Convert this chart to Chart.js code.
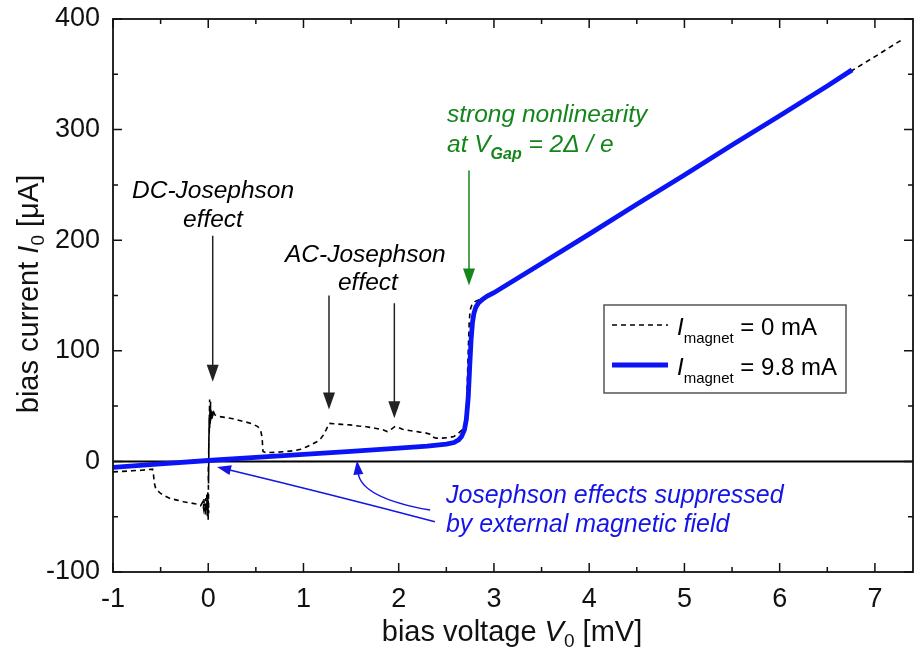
<!DOCTYPE html>
<html>
<head>
<meta charset="utf-8">
<script src="https://cdn.jsdelivr.net/npm/chart.js@4.4.0/dist/chart.umd.min.js"></script>
<style>
  html, body { margin: 0; padding: 0; background: #fff; }
  canvas { display: block; }
</style>
</head>
<body>
<canvas id="ivChart" width="916" height="659"></canvas>
<script>
// I-V curve, I_magnet = 0 mA (black dashed)
const voltage0 = [-1.0, -0.9, -0.8, -0.7, -0.62, -0.585, -0.575, -0.565, -0.55, -0.5, -0.45, -0.4, -0.33, -0.26, -0.19, -0.12,
  -0.08, -0.06, -0.05, -0.045, -0.04, -0.035, -0.03, -0.025, -0.02, -0.015, -0.01, -0.005, 0.0, -0.005, 0.005, 0.0, 0.008,
  0.003, 0.01, 0.005, 0.015, 0.01, 0.02, 0.015, 0.025, 0.02, 0.03, 0.025, 0.035, 0.04, 0.045, 0.05, 0.06,
  0.07, 0.12, 0.2, 0.26, 0.33, 0.4, 0.46, 0.52, 0.55, 0.565, 0.575, 0.6, 0.7, 0.8, 0.9, 0.97, 1.03, 1.09, 1.14, 1.18, 1.21,
  1.24, 1.27, 1.32, 1.4, 1.49, 1.58, 1.66, 1.75, 1.84, 1.88, 1.92, 1.96, 2.0, 2.04, 2.08, 2.15, 2.22, 2.28, 2.33, 2.36, 2.39,
  2.45, 2.52, 2.58, 2.62, 2.66, 2.69, 2.71, 2.72, 2.73, 2.74, 2.75, 2.77, 2.8, 2.85, 2.92, 3.0, 3.2, 3.5, 4.0, 4.5, 5.0, 5.5,
  6.0, 6.5, 6.8, 7.0, 7.27];
const current0 = [-9.5, -9, -8.5, -8, -7.3, -7, -12, -20, -25, -29, -31.5, -33.5, -35, -36.5, -37.5, -38.5,
  -40, -37, -42, -34, -45, -38, -48, -33, -44, -30, -50, -36, -54, -28, -47, -10, 20, -20, 40, 10, 56, 25, 50, 30,
  54, 34, 48, 37, 45, 38, 46, 40, 44,
  42, 40.5, 39.5, 38.5, 37, 35.5, 34, 31.5, 28, 22, 9, 8, 8.2, 8.8, 9.7, 11, 13, 15.5, 17.8, 20.5, 24,
  29, 34.4, 34, 33.5, 33, 32, 31.4, 30, 28.4, 27, 29, 31.4, 30.5, 29, 28.4, 27.5, 26.5, 25.8, 24.5, 22, 21,
  21, 21.5, 22.5, 25, 28, 32, 45, 70, 100, 125, 137, 142, 144.5, 146.5, 149, 152.5, 163, 179, 205.5, 232.5, 259, 286,
  312.5, 339.5, 355.5, 366, 380.5];

// I-V curve, I_magnet = 9.8 mA (blue)
const voltage98 = [-1.0, -0.5, 0.0, 0.5, 1.0, 1.5, 2.0, 2.3, 2.5, 2.58, 2.63, 2.66, 2.69, 2.71, 2.73, 2.745, 2.76, 2.775,
  2.79, 2.81, 2.84, 2.88, 2.93, 3.0, 3.5, 4.0, 4.5, 5.0, 5.5, 6.0, 6.5, 6.76];
const current98 = [-5.4, -2.2, 0.8, 3.6, 6.3, 9.0, 12.0, 13.8, 15.6, 17.0, 19.5, 22.5, 28.5, 38, 58, 85, 110, 126,
  134, 139.5, 143.5, 146.5, 149.5, 152.5, 179, 205.5, 232.5, 259, 286, 312.5, 339.5, 354];

// zero current reference line
const zeroV = [-1, 7.4];
const zeroI = [0, 0];

const xTickValues = [-1, 0, 1, 2, 3, 4, 5, 6, 7];
const yTickValues = [-100, 0, 100, 200, 300, 400];

const FONT = '"Liberation Sans", Arial, Helvetica, sans-serif';
function font(size, italic, bold) {
    return (italic ? 'italic ' : '') + (bold ? 'bold ' : '') + size + 'px ' + FONT;
}

function toPoints(xs, ys) {
    return xs.map((x, i) => ({ x: x, y: ys[i] }));
}

// text made of several runs (italic, subscripts)
function drawRich(ctx, parts, x, y, align, color) {
    let total = 0;
    parts.forEach(p => {
        ctx.font = font(p.size, p.italic, p.bold);
        p.w = ctx.measureText(p.text).width;
        total += p.w;
    });
    let cx = align === 'center' ? x - total / 2 : x;
    ctx.fillStyle = color;
    ctx.textAlign = 'left';
    ctx.textBaseline = 'alphabetic';
    parts.forEach(p => {
        ctx.font = font(p.size, p.italic, p.bold);
        ctx.fillText(p.text, cx, y + (p.dy || 0));
        cx += p.w;
    });
}

function arrowHead(ctx, x, y, angle, len, half) {
    const c = Math.cos(angle), s = Math.sin(angle);
    ctx.beginPath();
    ctx.moveTo(x, y);
    ctx.lineTo(x - len * c + half * s, y - len * s - half * c);
    ctx.lineTo(x - len * c - half * s, y - len * s + half * c);
    ctx.closePath();
    ctx.fill();
}

function straightArrow(ctx, x1, y1, x2, y2, color, lw, len, half) {
    const a = Math.atan2(y2 - y1, x2 - x1);
    ctx.strokeStyle = color;
    ctx.fillStyle = color;
    ctx.lineWidth = lw;
    ctx.beginPath();
    ctx.moveTo(x1, y1);
    ctx.lineTo(x2 - (len - 1) * Math.cos(a), y2 - (len - 1) * Math.sin(a));
    ctx.stroke();
    arrowHead(ctx, x2, y2, a, len, half);
}

function curvedArrow(ctx, x1, y1, cx, cy, x2, y2, color, lw, len, half) {
    const a = Math.atan2(y2 - cy, x2 - cx);
    ctx.strokeStyle = color;
    ctx.fillStyle = color;
    ctx.lineWidth = lw;
    ctx.beginPath();
    ctx.moveTo(x1, y1);
    ctx.quadraticCurveTo(cx, cy, x2 - (len - 2) * Math.cos(a), y2 - (len - 2) * Math.sin(a));
    ctx.stroke();
    arrowHead(ctx, x2, y2, a, len, half);
}

// annotation anchors, in data units (mV, uA)
const notes = {
    dcArrow: { v: 0.047, from: 204, to: 72 },
    acArrows: [{ v: 1.268, from: 150, to: 47 }, { v: 1.954, from: 143, to: 39 }],
    gapArrow: { v: 2.738, from: 263, to: 159 },
    blueArrows: [
        { from: [2.38, -54.5], ctrl: [1.25, -29], to: [0.092, -5] },
        { from: [2.33, -44], ctrl: [1.6, -33], to: [1.562, 0.8] }
    ]
};

const framePlugin = {
    id: 'frameAndNotes',
    afterDatasetsDraw(chart) {
        const ctx = chart.ctx;
        const area = chart.chartArea;
        const xs = chart.scales.x, ys = chart.scales.y;
        const px = v => xs.getPixelForValue(v);
        const py = v => ys.getPixelForValue(v);
        ctx.save();

        // frame
        ctx.strokeStyle = '#111';
        ctx.lineWidth = 1.8;
        ctx.strokeRect(area.left, area.top, area.right - area.left, area.bottom - area.top);

        // inward ticks, major + minor, on all four sides
        ctx.lineWidth = 1.5;
        ctx.beginPath();
        for (let v = -1; v <= 7.4001; v += 0.5) {
            const len = Math.abs(v - Math.round(v)) < 1e-6 ? 9 : 5;
            const x = px(v);
            ctx.moveTo(x, area.bottom); ctx.lineTo(x, area.bottom - len);
            ctx.moveTo(x, area.top); ctx.lineTo(x, area.top + len);
        }
        for (let v = -100; v <= 400; v += 50) {
            const len = v % 100 === 0 ? 9 : 5;
            const y = py(v);
            ctx.moveTo(area.left, y); ctx.lineTo(area.left + len, y);
            ctx.moveTo(area.right, y); ctx.lineTo(area.right - len, y);
        }
        ctx.stroke();

        // axis titles
        drawRich(ctx, [
            { text: 'bias voltage ', size: 29 },
            { text: 'V', size: 29, italic: true },
            { text: '0', size: 19, dy: 6 },
            { text: ' [mV]', size: 29 }
        ], 512, 641, 'center', '#111');

        ctx.save();
        ctx.translate(38, 294);
        ctx.rotate(-Math.PI / 2);
        drawRich(ctx, [
            { text: 'bias current ', size: 29 },
            { text: 'I', size: 29, italic: true },
            { text: '0', size: 19, dy: 6 },
            { text: ' [μA]', size: 29 }
        ], 0, 0, 'center', '#111');
        ctx.restore();

        // black arrows and labels
        const d = notes.dcArrow;
        straightArrow(ctx, px(d.v), py(d.from), px(d.v), py(d.to), '#222', 1.5, 17, 6);
        notes.acArrows.forEach(a => {
            straightArrow(ctx, px(a.v), py(a.from), px(a.v), py(a.to), '#222', 1.5, 17, 6);
        });
        const fs = 24.5;
        drawRich(ctx, [{ text: 'DC-Josephson', size: fs, italic: true }], px(-0.80), py(238.2), 'left', '#000');
        drawRich(ctx, [{ text: 'effect', size: fs, italic: true }], px(-0.265), py(211.9), 'left', '#000');
        drawRich(ctx, [{ text: 'AC-Josephson', size: fs, italic: true }], px(0.806), py(180.3), 'left', '#000');
        drawRich(ctx, [{ text: 'effect', size: fs, italic: true }], px(1.362), py(155), 'left', '#000');

        // green gap note
        const green = '#14851a';
        const g = notes.gapArrow;
        straightArrow(ctx, px(g.v), py(g.from), px(g.v), py(g.to), green, 1.5, 17, 6);
        drawRich(ctx, [{ text: 'strong nonlinearity', size: fs, italic: true }], px(2.507), py(306.9), 'left', green);
        drawRich(ctx, [
            { text: 'at V', size: fs, italic: true },
            { text: 'Gap', size: 16, italic: true, bold: true, dy: 7 },
            { text: ' = 2Δ / e', size: fs, italic: true }
        ], px(2.507), py(279.7), 'left', green);

        // blue note
        const blue = '#1414e6';
        notes.blueArrows.forEach(b => {
            curvedArrow(ctx, px(b.from[0]), py(b.from[1]), px(b.ctrl[0]), py(b.ctrl[1]),
                px(b.to[0]), py(b.to[1]), blue, 1.5, 14, 5);
        });
        drawRich(ctx, [{ text: 'Josephson effects suppressed', size: 25, italic: true }], px(2.496), py(-37.6), 'left', blue);
        drawRich(ctx, [{ text: 'by external magnetic field', size: 25, italic: true }], px(2.496), py(-63.8), 'left', blue);

        // legend box
        const lx = 604, ly = 305, lw = 242, lh = 88;
        ctx.fillStyle = '#fff';
        ctx.fillRect(lx, ly, lw, lh);
        ctx.strokeStyle = '#555';
        ctx.lineWidth = 1.5;
        ctx.strokeRect(lx, ly, lw, lh);
        const ds = chart.data.datasets;
        [ds[1], ds[0]].forEach((set, i) => {
            const yLine = ly + 20 + i * 40;
            ctx.strokeStyle = set.borderColor;
            ctx.lineWidth = set.borderWidth;
            ctx.setLineDash(set.borderDash || []);
            ctx.beginPath();
            ctx.moveTo(lx + 8, yLine);
            ctx.lineTo(lx + 64, yLine);
            ctx.stroke();
            ctx.setLineDash([]);
            drawRich(ctx, [
                { text: 'I', size: 24, italic: true },
                { text: 'magnet', size: 15, dy: 8 },
                { text: ' ' + set.label, size: 24 }
            ], lx + 73, yLine + 10, 'left', '#000');
        });

        ctx.restore();
    }
};

const chart = new Chart(document.getElementById('ivChart'), {
    type: 'scatter',
    data: {
        datasets: [
            {
                label: '= 9.8 mA',
                data: toPoints(voltage98, current98),
                showLine: true,
                borderColor: '#0a14f5',
                borderWidth: 4.8,
                pointRadius: 0,
                tension: 0,
                order: 0
            },
            {
                label: '= 0 mA',
                data: toPoints(voltage0, current0),
                showLine: true,
                borderColor: '#000',
                borderWidth: 1.6,
                borderDash: [5, 4],
                pointRadius: 0,
                tension: 0,
                order: 1
            },
            {
                label: 'zero',
                data: toPoints(zeroV, zeroI),
                showLine: true,
                borderColor: '#000',
                borderWidth: 2,
                pointRadius: 0,
                order: 2
            }
        ]
    },
    options: {
        responsive: false,
        animation: false,
        devicePixelRatio: 1,
        layout: { padding: { top: 19, right: 3, left: 0, bottom: 0 } },
        plugins: {
            legend: { display: false },
            tooltip: { enabled: false }
        },
        scales: {
            x: {
                type: 'linear',
                min: -1,
                max: 7.4,
                grid: { display: false, drawTicks: false },
                border: { display: false },
                afterFit: scale => {
                    scale.height = 87;
                    scale.paddingLeft = 0;
                    scale.paddingRight = 0;
                },
                afterBuildTicks: scale => { scale.ticks = xTickValues.map(v => ({ value: v })); },
                ticks: {
                    padding: 11,
                    color: '#111',
                    maxRotation: 0,
                    font: { family: FONT, size: 27 },
                    callback: value => String(value)
                }
            },
            y: {
                type: 'linear',
                min: -100,
                max: 400,
                grid: { display: false, drawTicks: false },
                border: { display: false },
                afterFit: scale => {
                    scale.width = 113;
                    scale.paddingTop = 0;
                    scale.paddingBottom = 0;
                },
                afterBuildTicks: scale => { scale.ticks = yTickValues.map(v => ({ value: v })); },
                ticks: {
                    padding: 13,
                    color: '#111',
                    font: { family: FONT, size: 27 },
                    callback: value => String(value)
                }
            }
        }
    },
    plugins: [framePlugin]
});
</script>
</body>
</html>
